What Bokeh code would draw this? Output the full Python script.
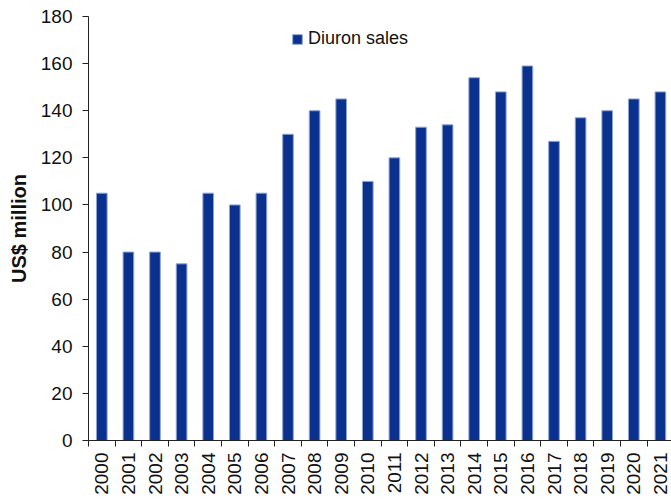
from bokeh.plotting import figure
from bokeh.models import Range1d, FixedTicker, Legend, LegendItem, ColumnDataSource
from bokeh.embed import file_html
from bokeh.resources import INLINE
import math

years = ["2000", "2001", "2002", "2003", "2004", "2005", "2006", "2007", "2008", "2009", "2010",
         "2011", "2012", "2013", "2014", "2015", "2016", "2017", "2018", "2019", "2020", "2021"]
sales = [105, 80, 80, 75, 105, 100, 105, 130, 140, 145, 110,
         120, 133, 134, 154, 148, 159, 127, 137, 140, 145, 148]
y_ticks = [0, 20, 40, 60, 80, 100, 120, 140, 160, 180]
series_name = "Diuron sales"

idx = list(range(len(years)))
src = ColumnDataSource(dict(x=idx, top=sales))

FONT = "Liberation Sans"

p = figure(width=671, height=503, output_backend="svg", toolbar_location=None,
           x_range=Range1d(-0.5, -0.5 + 583 / 26.6), y_range=Range1d(0, 180),
           min_border_left=88, min_border_right=0, min_border_top=16, min_border_bottom=63)
p.outline_line_color = None
p.xgrid.visible = False
p.ygrid.visible = False

r = p.vbar(x="x", top="top", bottom=0, width=0.4, source=src,
           fill_color="#0b318e", line_color="#8fa3d6", line_width=1)

# x axis
p.xaxis.ticker = FixedTicker(ticks=idx, minor_ticks=[i - 0.5 for i in range(len(years) + 1)])
p.xaxis.major_label_overrides = {i: y for i, y in enumerate(years)}
p.xaxis.major_label_orientation = math.pi / 2
p.xaxis.major_tick_line_color = None
p.xaxis.minor_tick_out = 6
p.xaxis.minor_tick_in = 0
p.xaxis.minor_tick_line_color = "#222222"
p.xaxis.axis_line_color = "#222222"
p.xaxis.major_label_text_font = FONT
p.xaxis.major_label_text_font_size = "19px"
p.xaxis.major_label_text_color = "#111111"
p.xaxis.major_label_standoff = 6

# y axis
p.yaxis.ticker = FixedTicker(ticks=y_ticks)
p.yaxis.minor_tick_line_color = None
p.yaxis.major_tick_out = 6
p.yaxis.major_tick_in = 0
p.yaxis.major_tick_line_color = "#222222"
p.yaxis.axis_line_color = "#222222"
p.yaxis.major_label_text_font = FONT
p.yaxis.major_label_text_font_size = "19px"
p.yaxis.major_label_text_color = "#111111"
p.yaxis.major_label_standoff = 10
p.yaxis.axis_label = "US$ million"
p.yaxis.axis_label_text_font = FONT
p.yaxis.axis_label_text_font_size = "20px"
p.yaxis.axis_label_text_font_style = "bold"
p.yaxis.axis_label_text_color = "#111111"
p.yaxis.axis_label_standoff = 8

legend = Legend(items=[LegendItem(label=series_name, renderers=[r])],
                location=(203, 391), orientation="horizontal",
                glyph_width=12, glyph_height=12, label_standoff=5,
                padding=0, margin=0, spacing=0,
                label_text_font=FONT, label_text_font_size="18px",
                label_text_color="#111111",
                background_fill_alpha=0, border_line_color=None)
p.add_layout(legend)

open("out.html", "w").write(file_html(p, INLINE))
